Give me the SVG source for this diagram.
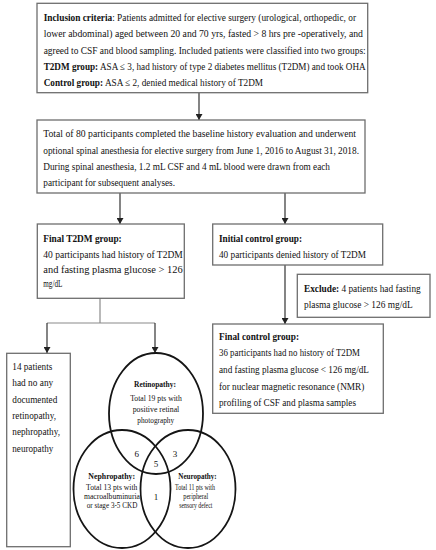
<svg xmlns="http://www.w3.org/2000/svg" width="436" height="550" viewBox="0 0 436 550">
<style>
.box{fill:#fff;stroke:#6e6e6e;stroke-width:1.3}
.t{font-family:"Liberation Serif","Times New Roman",serif;font-size:10.5px;fill:#111}
.b{font-weight:bold}
.v{font-family:"Liberation Serif","Times New Roman",serif;font-size:9px;fill:#111;text-anchor:middle}
.s{font-size:8px}
.ln{stroke:#333;stroke-width:1.2;fill:none}
.lg{stroke:#8a8a8a;stroke-width:1.2;fill:none}
.el{fill:none;stroke:#151515;stroke-width:1.8}
</style>
<defs>
<marker id="ah" markerUnits="userSpaceOnUse" markerWidth="6" markerHeight="7" refX="6" refY="3.5" orient="auto">
<path d="M0,0 L6,3.5 L0,7 z" fill="#222"/>
</marker>
</defs>
<rect width="436" height="550" fill="#fff"/>
<g id="connectors">
<line class="ln" x1="199" y1="93" x2="199" y2="120" marker-end="url(#ah)"/>
<line class="ln" x1="120" y1="193" x2="120" y2="224" marker-end="url(#ah)"/>
<line class="ln" x1="285" y1="193" x2="285" y2="224" marker-end="url(#ah)"/>
<line class="ln" x1="285" y1="265" x2="285" y2="324" marker-end="url(#ah)"/>
<polyline class="lg" points="100,298 100,323"/>
<polyline class="lg" points="47,323 155,323"/>
<line class="ln" x1="47" y1="323" x2="47" y2="353" marker-end="url(#ah)"/>
<line class="ln" x1="155" y1="323" x2="155" y2="353" marker-end="url(#ah)"/>
</g>
<g id="inclusion">
<rect class="box" x="37" y="3.3" width="330.7" height="89.4"/>
<text class="t" x="43.7" y="20.5" textLength="312.3" lengthAdjust="spacingAndGlyphs"><tspan class="b">Inclusion criteria</tspan>:  Patients admitted for elective surgery (urological, orthopedic, or</text>
<text class="t" x="43.7" y="37" textLength="319.3" lengthAdjust="spacingAndGlyphs">lower abdominal)  aged between 20 and 70 yrs, fasted &gt; 8 hrs pre        -operatively,  and</text>
<text class="t" x="43.7" y="53.5" textLength="322" lengthAdjust="spacingAndGlyphs">agreed to CSF and blood sampling. Included patients were classified into two groups:</text>
<text class="t" x="43.7" y="70" textLength="322" lengthAdjust="spacingAndGlyphs"><tspan class="b">T2DM group:</tspan> ASA ≤ 3, had history of type 2 diabetes mellitus (T2DM) and took OHA</text>
<text class="t" x="43.7" y="86" textLength="219.3" lengthAdjust="spacingAndGlyphs"><tspan class="b">Control group:</tspan> ASA ≤ 2, denied medical history of T2DM</text>
</g>
<g id="total">
<rect class="box" x="37" y="120" width="328" height="73"/>
<text class="t" x="43.3" y="137" textLength="312.7" lengthAdjust="spacingAndGlyphs">Total  of  80 participants completed the baseline      history  evaluation and underwent</text>
<text class="t" x="43.3" y="153.5" textLength="315.7" lengthAdjust="spacingAndGlyphs">optional spinal anesthesia for elective surgery from June 1, 2016 to August 31, 2018.</text>
<text class="t" x="43.3" y="169.5" textLength="286.7" lengthAdjust="spacingAndGlyphs">During spinal anesthesia, 1.2 mL CSF and 4 mL blood were drawn from each</text>
<text class="t" x="43.3" y="186" textLength="131.7" lengthAdjust="spacingAndGlyphs">participant for subsequent analyses.</text>
</g>
<g id="final-t2dm">
<rect class="box" x="37.3" y="224" width="147" height="74.3"/>
<text class="t b" x="43.3" y="242" textLength="78.4" lengthAdjust="spacingAndGlyphs">Final T2DM group:</text>
<text class="t" x="43.3" y="258" textLength="139.4" lengthAdjust="spacingAndGlyphs">40 participants had history of T2DM</text>
<text class="t" x="43.3" y="273" textLength="139.4" lengthAdjust="spacingAndGlyphs">and  fasting  plasma  glucose  &gt;  126</text>
<text class="t" x="43.3" y="287" textLength="19" lengthAdjust="spacingAndGlyphs">mg/dL</text>
</g>
<g id="initial-control">
<rect class="box" x="212.7" y="224" width="170" height="41"/>
<text class="t b" x="219" y="242" textLength="83" lengthAdjust="spacingAndGlyphs">Initial control group:</text>
<text class="t" x="219" y="258" textLength="147" lengthAdjust="spacingAndGlyphs">40 participants denied history of T2DM</text>
</g>
<g id="exclude">
<rect class="box" x="297.3" y="274.3" width="132.7" height="43"/>
<text class="t" x="304" y="292" textLength="116.7" lengthAdjust="spacingAndGlyphs"><tspan class="b">Exclude:</tspan> 4 patients had fasting</text>
<text class="t" x="304" y="308" textLength="108.7" lengthAdjust="spacingAndGlyphs">plasma glucose &gt; 126 mg/dL</text>
</g>
<g id="final-control">
<rect class="box" x="212.7" y="324" width="170.6" height="89.3"/>
<text class="t b" x="219" y="339.5" textLength="80" lengthAdjust="spacingAndGlyphs">Final control group:</text>
<text class="t" x="219" y="356" textLength="141" lengthAdjust="spacingAndGlyphs">36 participants had no history of T2DM</text>
<text class="t" x="219" y="372.5" textLength="150" lengthAdjust="spacingAndGlyphs">and fasting plasma glucose &lt; 126 mg/dL</text>
<text class="t" x="219" y="389.5" textLength="145.3" lengthAdjust="spacingAndGlyphs">for nuclear magnetic resonance (NMR)</text>
<text class="t" x="219" y="406" textLength="137" lengthAdjust="spacingAndGlyphs">profiling of CSF and plasma samples</text>
</g>
<g id="no-complications">
<rect class="box" x="6.7" y="353.3" width="63.6" height="193.4"/>
<text class="t" x="12.3" y="369.5" textLength="40" lengthAdjust="spacingAndGlyphs">14 patients</text>
<text class="t" x="12.3" y="386" textLength="41" lengthAdjust="spacingAndGlyphs">had no any</text>
<text class="t" x="12.3" y="403" textLength="45" lengthAdjust="spacingAndGlyphs">documented</text>
<text class="t" x="12.3" y="419" textLength="43.7" lengthAdjust="spacingAndGlyphs">retinopathy,</text>
<text class="t" x="12.3" y="435" textLength="47.7" lengthAdjust="spacingAndGlyphs">nephropathy,</text>
<text class="t" x="12.3" y="452" textLength="41" lengthAdjust="spacingAndGlyphs">neuropathy</text>
</g>
<g id="retinopathy">
<ellipse class="el" cx="156" cy="413.5" rx="47" ry="60.5"/>
<text class="v b" x="155" y="386.5" textLength="42" lengthAdjust="spacingAndGlyphs">Retinopathy:</text>
<text class="v" x="156" y="400.5" textLength="51.7" lengthAdjust="spacingAndGlyphs">Total 19 pts with</text>
<text class="v" x="156" y="411.5" textLength="46.6" lengthAdjust="spacingAndGlyphs">positive retinal</text>
<text class="v" x="155.7" y="422.5" textLength="36.7" lengthAdjust="spacingAndGlyphs">photography</text>
</g>
<g id="nephropathy">
<ellipse class="el" cx="122" cy="489" rx="48.5" ry="59"/>
<text class="v b" x="111.7" y="479" textLength="46.7" lengthAdjust="spacingAndGlyphs">Nephropathy:</text>
<text class="v s" x="111.7" y="490" textLength="51.3" lengthAdjust="spacingAndGlyphs">Total 13 pts with</text>
<text class="v s" x="112" y="499" textLength="56" lengthAdjust="spacingAndGlyphs">macroalbuminuria</text>
<text class="v s" x="112" y="508" textLength="50.6" lengthAdjust="spacingAndGlyphs">or stage 3-5 CKD</text>
</g>
<g id="neuropathy">
<ellipse class="el" cx="188" cy="489" rx="47.5" ry="59"/>
<text class="v b" x="197.5" y="479" textLength="38.4" lengthAdjust="spacingAndGlyphs">Neuropathy:</text>
<text class="v s" x="195" y="490" textLength="40" lengthAdjust="spacingAndGlyphs">Total 11 pts with</text>
<text class="v s" x="195.8" y="499" textLength="25" lengthAdjust="spacingAndGlyphs">peripheral</text>
<text class="v s" x="195.8" y="508" textLength="33" lengthAdjust="spacingAndGlyphs">sensory defect</text>
</g>
<g id="overlaps">
<text class="v" x="136.7" y="456.5">6</text>
<text class="v" x="175" y="456.5">3</text>
<text class="v" x="156" y="467">5</text>
<text class="v" x="156" y="500">1</text>
</g>
</svg>
